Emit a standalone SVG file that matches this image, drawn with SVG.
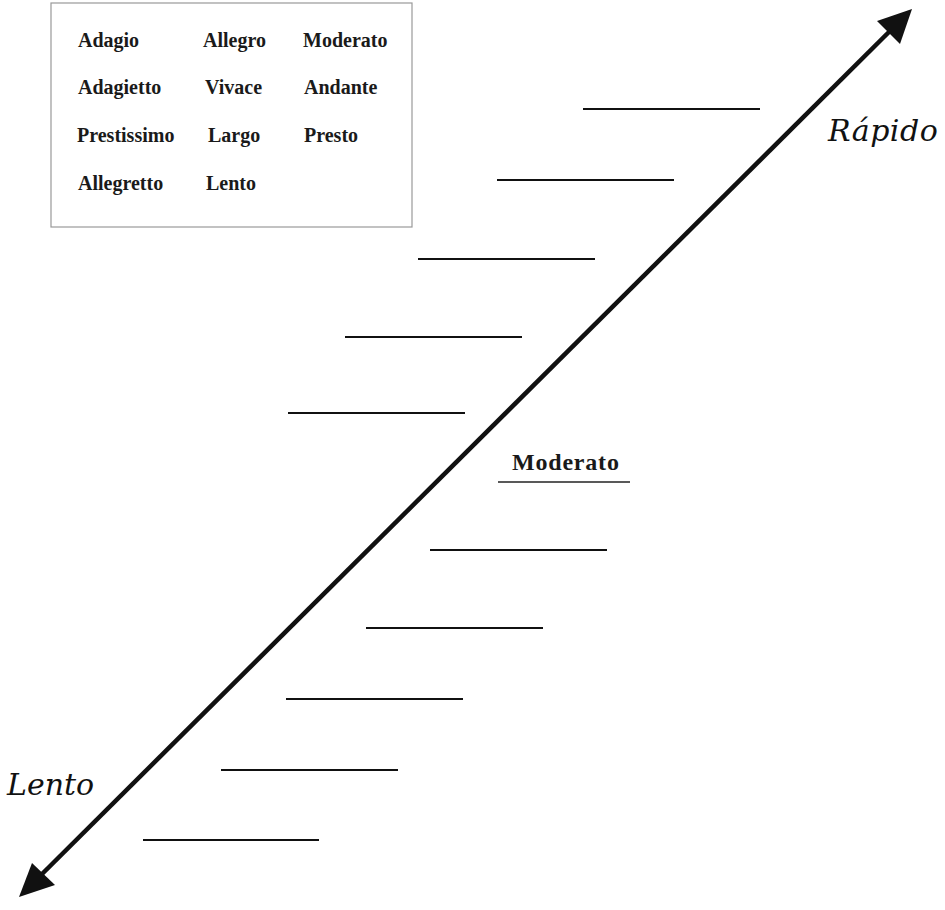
<svg xmlns="http://www.w3.org/2000/svg" width="945" height="910" viewBox="0 0 945 910">
<style>
.w{font-family:"Liberation Serif","Times New Roman",serif;font-weight:bold;font-size:20px;fill:#1a1a1a}
.ax{font-family:"DejaVu Serif",serif;font-style:italic;font-size:30px;fill:#111}
.blank{stroke:#111;stroke-width:2}
</style>
<rect width="945" height="910" fill="#fff"/>
<g id="wordbox">
<rect x="51" y="3" width="361" height="224" fill="#fff" stroke="#999" stroke-width="1.2"/>
<text class="w" x="78" y="47">Adagio</text>
<text class="w" x="203" y="47">Allegro</text>
<text class="w" x="303" y="47">Moderato</text>
<text class="w" x="78" y="94">Adagietto</text>
<text class="w" x="205" y="94">Vivace</text>
<text class="w" x="304" y="94">Andante</text>
<text class="w" x="77" y="142">Prestissimo</text>
<text class="w" x="208" y="142">Largo</text>
<text class="w" x="304" y="142">Presto</text>
<text class="w" x="78" y="190">Allegretto</text>
<text class="w" x="206" y="190">Lento</text>
</g>
<g id="connectors">
<line x1="34" y1="882" x2="896" y2="25" stroke="#111" stroke-width="4.5"/>
<polygon points="912,9 877,21 900,44" fill="#111"/>
<polygon points="19,897 32,863 55,885" fill="#111"/>
</g>
<g id="label-rapido"><text class="ax" x="828" y="141" letter-spacing="0.5">Rápido</text></g>
<g id="label-lento"><text class="ax" x="7" y="795">Lento</text></g>
<g id="blanks">
<line class="blank" x1="583" y1="109" x2="760" y2="109"/>
<line class="blank" x1="497" y1="180" x2="674" y2="180"/>
<line class="blank" x1="418" y1="259" x2="595" y2="259"/>
<line class="blank" x1="345" y1="337" x2="522" y2="337"/>
<line class="blank" x1="288" y1="413" x2="465" y2="413"/>
<line class="blank" x1="430" y1="550" x2="607" y2="550"/>
<line class="blank" x1="366" y1="628" x2="543" y2="628"/>
<line class="blank" x1="286" y1="699" x2="463" y2="699"/>
<line class="blank" x1="221" y1="770" x2="398" y2="770"/>
<line class="blank" x1="143" y1="840" x2="319" y2="840"/>
</g>
<g id="moderato">
<text x="512" y="470" style="font-family:'Liberation Serif','Times New Roman',serif;font-weight:bold;font-size:24px;letter-spacing:0.8px;fill:#1a1a1a">Moderato</text>
<line x1="498" y1="482" x2="630" y2="482" stroke="#222" stroke-width="1.6"/>
</g>
</svg>
